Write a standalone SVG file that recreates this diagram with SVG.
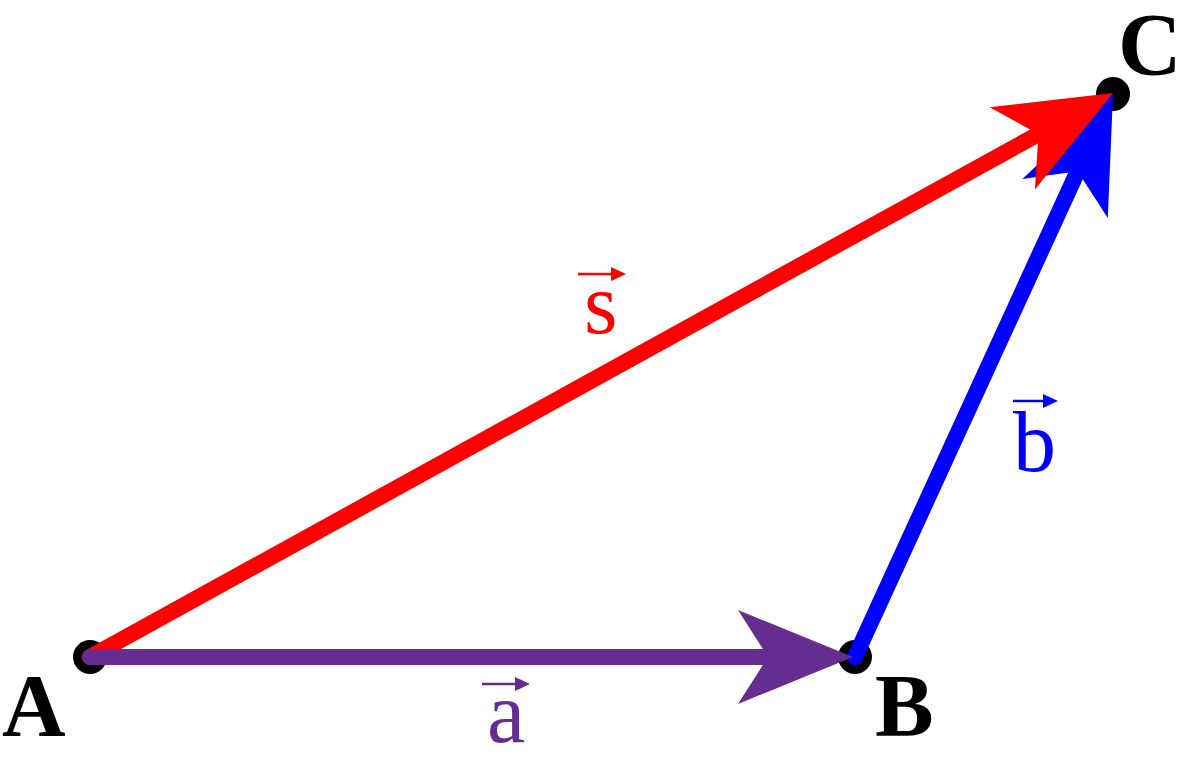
<svg xmlns="http://www.w3.org/2000/svg" width="1187" height="773" viewBox="0 0 1187 773">
<style>
.pt{font-family:"Liberation Serif","Times New Roman",serif;font-weight:bold;font-size:88px;fill:#000}
.lb{font-family:"Liberation Serif","Times New Roman",serif;font-size:86px}
.vec{stroke-width:16;stroke-linecap:round;fill:none}
</style>
<rect width="1187" height="773" fill="#fff"/>
<g id="points">
<g id="A"><circle cx="90" cy="657" r="17" fill="#000"/><text class="pt" x="2" y="735">A</text></g>
<g id="B"><circle cx="855" cy="657" r="17" fill="#000"/><text class="pt" x="875" y="735">B</text></g>
<g id="C"><circle cx="1113" cy="94" r="17" fill="#000"/><text class="pt" x="1118" y="74" font-size="83">C</text></g>
</g>
<g id="connectors">
<g id="vec-b">
<line class="vec" x1="855" y1="657" x2="1077.6" y2="171.3" stroke="#0000ff"/>
<polygon points="1113,94 1107.8,218.1 1077.6,171.3 1022.4,178.9" fill="#0000ff"/>
</g>
<g id="vec-s">
<line class="vec" x1="90" y1="657" x2="1038.5" y2="134" stroke="#ff0000"/>
<polygon points="1113,93 989.6,107.2 1038.5,134 1034.9,189.6" fill="#ff0000"/>
</g>
<g id="vec-a">
<line class="vec" x1="90" y1="657" x2="768" y2="657" stroke="#662d91"/>
<polygon points="853,657 738,610 768,657 738,704" fill="#662d91"/>
</g>
</g>
<g id="label-a" fill="#662d91">
<line x1="482" y1="684" x2="518" y2="684" stroke="#662d91" stroke-width="2.5"/>
<polygon points="530,684 515,677 515,691"/>
<text class="lb" x="487" y="742">a</text>
</g>
<g id="label-s" fill="#ff0000">
<line x1="578" y1="274" x2="614" y2="274" stroke="#ff0000" stroke-width="2.5"/>
<polygon points="626,274 611,267 611,281"/>
<text class="lb" x="584" y="333">s</text>
</g>
<g id="label-b" fill="#0000ff">
<line x1="1013" y1="401" x2="1046" y2="401" stroke="#0000ff" stroke-width="2.5"/>
<polygon points="1058,401 1043,394 1043,408"/>
<text class="lb" x="1013" y="471">b</text>
</g>
</svg>
